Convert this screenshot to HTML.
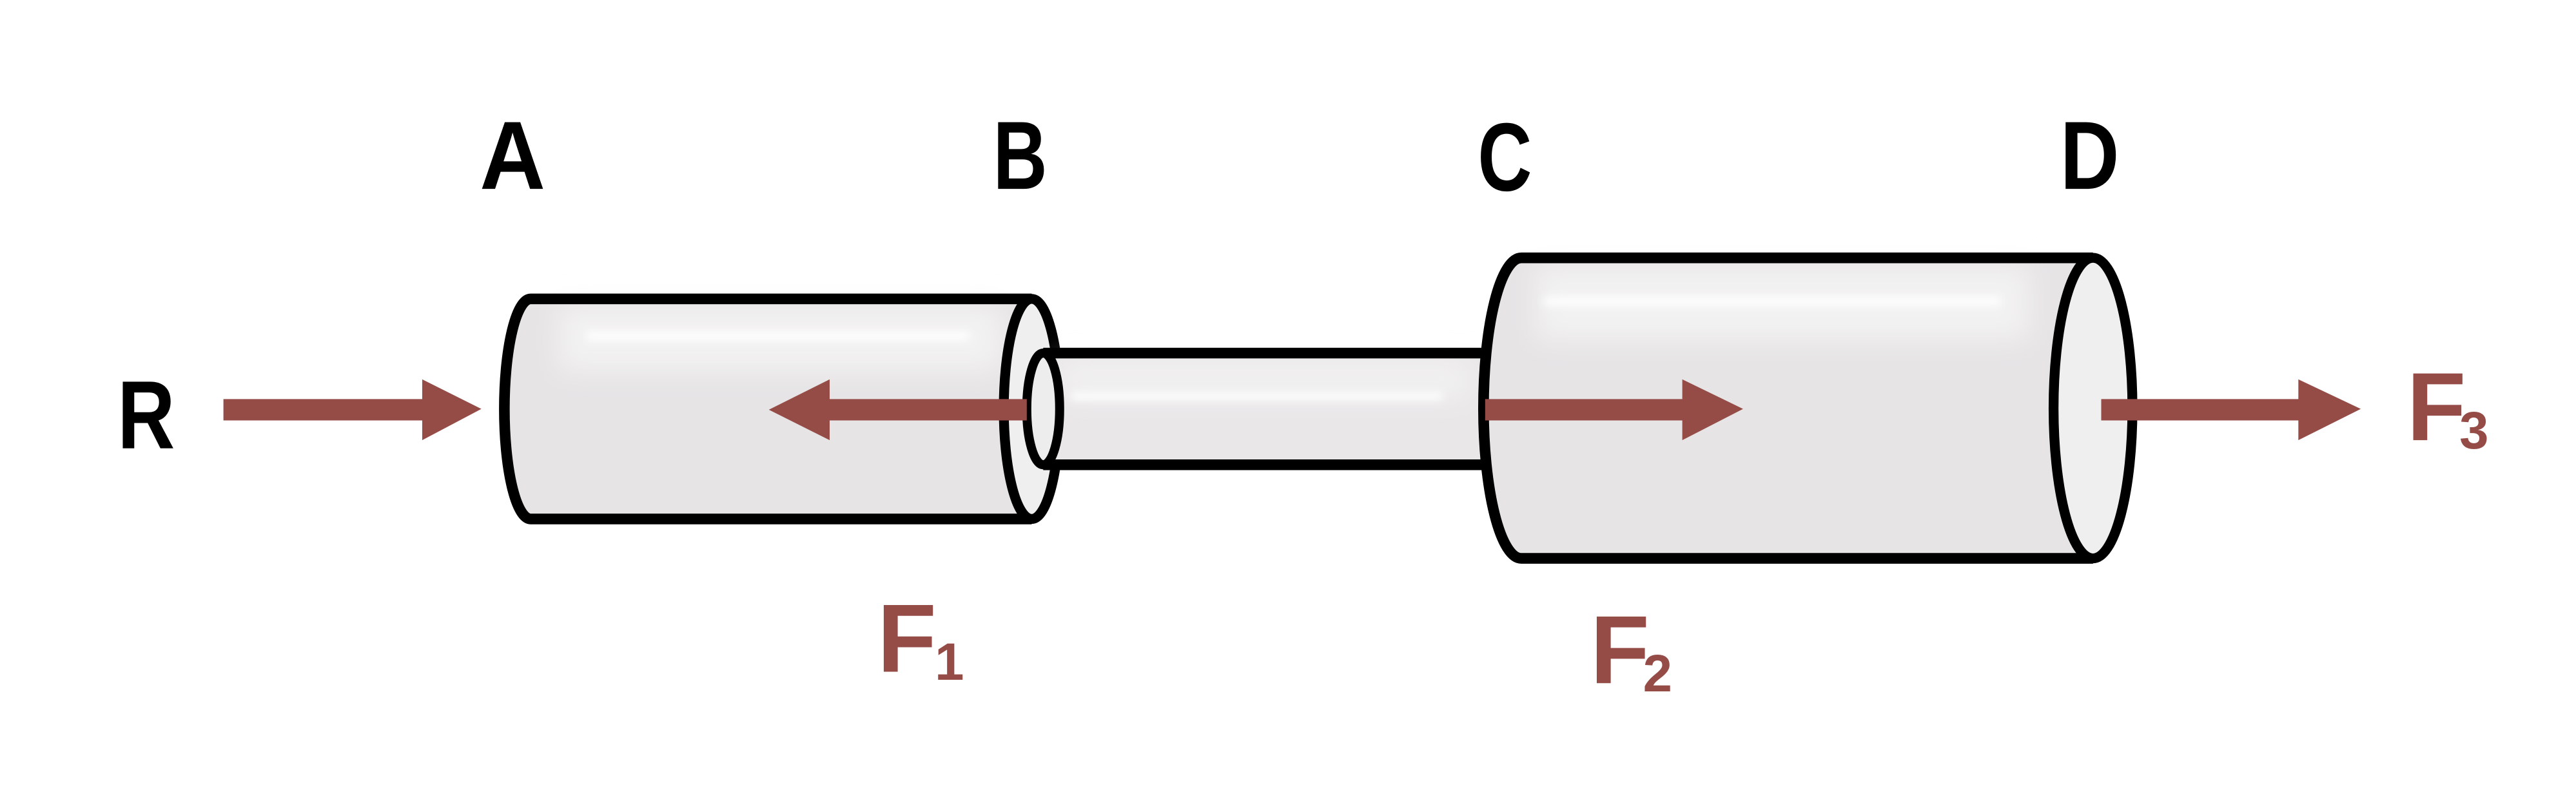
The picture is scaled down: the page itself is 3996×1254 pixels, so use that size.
<!DOCTYPE html>
<html><head><meta charset="utf-8">
<style>
html,body{margin:0;padding:0;background:#fff;}
svg{display:block;}
text{font-family:"Liberation Sans",sans-serif;font-weight:bold;}
</style></head>
<body>
<svg width="3996" height="1254" viewBox="0 0 1568 492" preserveAspectRatio="none" xmlns="http://www.w3.org/2000/svg">
<defs>
  <filter id="blur" x="-20%" y="-200%" width="140%" height="500%"><feGaussianBlur stdDeviation="2.5"/></filter>
  <filter id="blur2" x="-20%" y="-100%" width="140%" height="300%"><feGaussianBlur stdDeviation="8"/></filter>
</defs>
<rect width="1568" height="492" fill="#fff"/>

<g>
  <path d="M323,182 L628,182 L628,316 L323,316 A16,67 0 0 1 323,182 Z" fill="#e6e4e5"/>
  <rect x="340" y="186" width="270" height="40" fill="#f3f2f2" filter="url(#blur2)"/>
  <rect x="357" y="202" width="233" height="5" fill="#fff" filter="url(#blur)"/>
  <path d="M628,182 L323,182 A16,67 0 0 0 323,316 L628,316" fill="none" stroke="#000" stroke-width="6.5"/>
  <ellipse cx="628" cy="249" rx="17" ry="67" fill="#f0efef" stroke="#000" stroke-width="6"/>
</g>

<g>
  <path d="M635,215 L910,215 L910,283 L635,283 Z" fill="#e9e7e8"/>
  <rect x="645" y="220" width="250" height="22" fill="#f2f1f1" filter="url(#blur2)"/>
  <rect x="652" y="239" width="226" height="4.5" fill="#fff" filter="url(#blur)"/>
  <path d="M910,215 L635,215 M635,283 L910,283" fill="none" stroke="#000" stroke-width="6.5"/>
  <ellipse cx="635" cy="249" rx="10" ry="34" fill="#eeeded" stroke="#000" stroke-width="5.5"/>
</g>

<g>
  <path d="M926,157 L1274,157 L1274,340 L926,340 A23,91.5 0 0 1 926,157 Z" fill="#e6e4e5"/>
  <rect x="935" y="162" width="300" height="45" fill="#f3f2f2" filter="url(#blur2)"/>
  <rect x="940" y="181" width="278" height="5" fill="#fff" filter="url(#blur)"/>
  <path d="M1274,157 L926,157 A23,91.5 0 0 0 926,340 L1274,340" fill="none" stroke="#000" stroke-width="6.5"/>
  <ellipse cx="1274" cy="248.5" rx="24" ry="91.5" fill="#f0efef" stroke="#000" stroke-width="6"/>
</g>

<g fill="#954c47">
  <path d="M136,243 L257,243 L257,231 L293,249 L257,268 L257,256 L136,256 Z"/>
  <path d="M625,243 L505,243 L505,231 L468,249.5 L505,268 L505,256 L625,256 Z"/>
  <path d="M904,243 L1024,243 L1024,231 L1061,249 L1024,268 L1024,256 L904,256 Z"/>
  <path d="M1279,243 L1399,243 L1399,231 L1437,249 L1399,268 L1399,256 L1279,256 Z"/>
</g>

<g fill="#000" font-size="59" text-anchor="middle">
  <text x="312" y="115" textLength="40" lengthAdjust="spacingAndGlyphs">A</text>
  <text x="621" y="115" textLength="33" lengthAdjust="spacingAndGlyphs">B</text>
  <text x="916" y="116" textLength="33" lengthAdjust="spacingAndGlyphs">C</text>
  <text x="1272" y="115" textLength="36" lengthAdjust="spacingAndGlyphs">D</text>
  <text x="89" y="273" textLength="35" lengthAdjust="spacingAndGlyphs">R</text>
</g>

<g fill="#954c47">
  <text x="534" y="409" font-size="59">F<tspan font-size="32" dx="-1" dy="5">1</tspan></text>
  <text x="968" y="416" font-size="59">F<tspan font-size="32" dx="-4" dy="5">2</tspan></text>
  <text x="1465" y="268" font-size="59">F<tspan font-size="32" dx="-4" dy="5">3</tspan></text>
</g>
</svg>
</body></html>
